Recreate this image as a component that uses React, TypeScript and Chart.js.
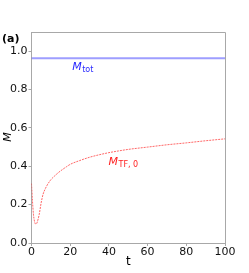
import React, { useEffect, useRef } from "react";
import { Chart, registerables } from "chart.js";

Chart.register(...registerables);

const tValues = [0, 0.5, 1, 1.5, 2, 2.5, 3, 4, 5, 6, 7, 8, 10, 12, 14, 16, 18, 20, 25, 30, 35, 40, 45, 50, 60, 70, 80, 90, 100];
const mTF0 = [0.31, 0.22, 0.15, 0.115, 0.1, 0.1, 0.11, 0.15, 0.21, 0.255, 0.28, 0.3, 0.33, 0.35, 0.368, 0.383, 0.397, 0.41, 0.43, 0.447, 0.46, 0.471, 0.48, 0.488, 0.5, 0.512, 0.522, 0.533, 0.543];
const mTotT = [0, 100];
const mTot = [0.963, 0.963];
const xTicks = [0, 20, 40, 60, 80, 100];
const yTicks = [0, 0.2, 0.4, 0.6, 0.8, 1.0];

const FONT = "DejaVu Sans";

function drawSubLabel(ctx: CanvasRenderingContext2D, x: number, y: number, main: string, sub: string, color: string) {
  ctx.save();
  ctx.fillStyle = color;
  ctx.textBaseline = "alphabetic";
  ctx.textAlign = "left";
  ctx.font = `italic 11px "${FONT}"`;
  ctx.fillText(main, x, y);
  const w = ctx.measureText(main).width;
  ctx.font = `8px "${FONT}"`;
  ctx.fillText(sub, x + w + 0.5, y + 2.5);
  ctx.restore();
}

const textPlugin = {
  id: "texts",
  afterDraw(chart: any) {
    const ctx = chart.ctx as CanvasRenderingContext2D;
    const { left, right, top, bottom } = chart.chartArea;
    const xs = chart.scales.x;
    const ys = chart.scales.y;
    ctx.save();
    ctx.strokeStyle = "#a8a8a8";
    ctx.lineWidth = 1;
    ctx.beginPath();
    ctx.moveTo(left, top + 0.5);
    ctx.lineTo(right + 0.5, top + 0.5);
    ctx.lineTo(right + 0.5, bottom);
    ctx.stroke();

    ctx.fillStyle = "#000";
    ctx.font = `bold 11px "${FONT}"`;
    ctx.textBaseline = "middle";
    ctx.textAlign = "left";
    ctx.fillText("(a)", 2, 39);

    ctx.font = `italic 11px "${FONT}"`;
    ctx.textAlign = "center";
    ctx.save();
    ctx.translate(8, 137);
    ctx.rotate(-Math.PI / 2);
    ctx.fillText("M", 0, 0);
    ctx.restore();

    ctx.font = `12px "${FONT}"`;
    ctx.fillText("t", (left + right) / 2, 262);
    ctx.restore();

    drawSubLabel(ctx, xs.getPixelForValue(21), ys.getPixelForValue(0.925) + 4, "M", "tot", "#2a2aff");
    drawSubLabel(ctx, xs.getPixelForValue(39.8), ys.getPixelForValue(0.43) + 4, "M", "TF, 0", "#ff2020");
  },
};

export default function App() {
  const ref = useRef<HTMLCanvasElement>(null);
  useEffect(() => {
    if (!ref.current) return;
    const chart = new Chart(ref.current, {
      type: "line",
      data: {
        datasets: [
          {
            data: mTotT.map((t, i) => ({ x: t, y: mTot[i] })),
            borderColor: "rgba(40,40,255,0.45)",
            borderWidth: 2,
            pointRadius: 0,
          },
          {
            data: tValues.map((t, i) => ({ x: t, y: mTF0[i] })),
            borderColor: "rgba(255,0,0,0.6)",
            borderWidth: 1,
            borderDash: [2, 1],
            pointRadius: 0,
            cubicInterpolationMode: "monotone",
          },
        ],
      },
      options: {
        responsive: false,
        animation: false,
        layout: { padding: { top: 32, right: 24, left: 0, bottom: 0 } },
        plugins: { legend: { display: false }, tooltip: { enabled: false } },
        scales: {
          x: {
            type: "linear",
            min: 0,
            max: 100,
            afterBuildTicks: (s: any) => {
              s.ticks = xTicks.map((v) => ({ value: v }));
            },
            afterFit: (s: any) => {
              s.height = 30;
            },
            grid: { drawOnChartArea: false, tickLength: 3, color: "#a8a8a8" },
            border: { color: "#a8a8a8" },
            ticks: {
              color: "#111",
              font: { family: FONT, size: 11 },
              padding: 0,
              maxRotation: 0,
              callback: (v: any) => String(v),
            },
          },
          y: {
            type: "linear",
            min: 0,
            max: 1.1,
            afterBuildTicks: (s: any) => {
              s.ticks = yTicks.map((v) => ({ value: v }));
            },
            afterFit: (s: any) => {
              s.width = 31.5;
            },
            grid: { drawOnChartArea: false, tickLength: 3, color: "#a8a8a8" },
            border: { color: "#a8a8a8" },
            ticks: {
              color: "#111",
              font: { family: FONT, size: 11 },
              padding: 1,
              callback: (v: any) => Number(v).toFixed(1),
            },
          },
        },
      },
      plugins: [textPlugin],
    } as any);
    return () => chart.destroy();
  }, []);
  return (
    <div style={{ position: "absolute", left: 0, top: 0, width: 249, height: 273, background: "#fff" }}>
      <canvas ref={ref} width={249} height={273} style={{ width: 249, height: 273 }} />
    </div>
  );
}
